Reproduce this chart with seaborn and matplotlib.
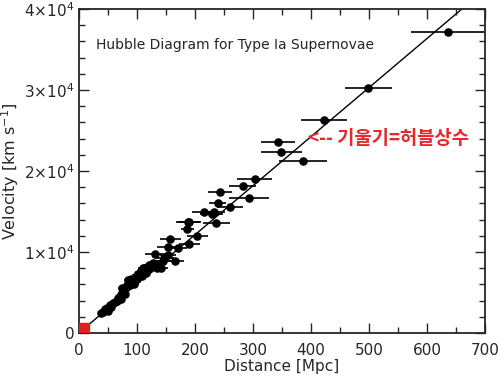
import numpy as np
import pandas as pd
import matplotlib
matplotlib.use("Agg")
import matplotlib.pyplot as plt
from matplotlib.patches import Rectangle
from matplotlib.ticker import MultipleLocator, FixedLocator, FixedFormatter
import seaborn as sns

# Type Ia supernovae: distance [Mpc], velocity [km/s], distance error [Mpc]
distance = [38, 42, 45, 48, 50, 53, 55, 58, 62, 65, 68, 70, 72, 74, 74, 78, 80,
            82, 85, 88, 90, 94, 95, 100, 100, 103, 105, 108, 111, 112, 115, 120,
            120, 125, 128, 130, 131, 134, 138, 142, 145, 147, 153, 154, 157, 165,
            170, 187, 188, 190, 190, 204, 215, 229, 233, 237, 239, 243, 260, 282,
            293, 303, 343, 349, 386, 422, 499, 636]
velocity = [2400, 2630, 2900, 3050, 2750, 3460, 3200, 3700, 3860, 3900, 4280, 4500,
            4200, 4900, 5520, 5200, 4800, 5930, 6540, 5900, 6600, 6330, 6100, 7160,
            6700, 7300, 7570, 7000, 7990, 7700, 7400, 8400, 7900, 8100, 8600, 8300,
            9750, 7990, 8500, 8000, 8900, 9300, 10650, 9630, 11560, 8930, 10530,
            12800, 13660, 13740, 10950, 12020, 14980, 14650, 14980, 13540, 16090,
            17370, 15510, 18190, 16700, 18970, 23620, 22380, 21200, 26300, 30280,
            37200]
dist_err = [3, 3, 3, 4, 4, 4, 4, 4, 5, 5, 5, 5, 5, 6, 6, 6, 6, 6, 7, 7, 7, 7, 7,
            8, 8, 8, 8, 8, 9, 9, 9, 10, 10, 10, 11, 11, 17, 11, 12, 12, 13, 16, 18,
            14, 18, 16, 17, 12, 20, 20, 18, 18, 20, 20, 18, 23, 15, 20, 22, 24, 35,
            30, 29, 35, 42, 40, 40, 64]

H0 = 60.6                  # slope of the fitted line [km/s/Mpc]
local_box = (18, 1200)     # red box at the origin: width [Mpc], height [km/s]

x_ticks = [0, 100, 200, 300, 400, 500, 600, 700]
y_ticks = [0, 10000, 20000, 30000, 40000]
y_tick_labels = ["0", r"$1{\times}10^4$", r"$2{\times}10^4$", r"$3{\times}10^4$",
                 r"$4{\times}10^4$"]

df = pd.DataFrame({"distance": distance, "velocity": velocity, "err": dist_err})

sns.set_style("ticks")
plt.rcParams["font.family"] = ["DejaVu Sans"]
plt.rcParams["mathtext.fontset"] = "dejavusans"

fig = plt.figure(figsize=(5.0, 3.77), dpi=100)
ax = fig.add_axes([0.158, 0.117, 0.812, 0.859])

ax.errorbar(df["distance"], df["velocity"], xerr=df["err"], fmt="none",
            ecolor="black", elinewidth=1.2, capsize=0, zorder=2)
sns.scatterplot(data=df, x="distance", y="velocity", color="black", s=38,
                edgecolor="black", linewidth=0, ax=ax, zorder=3, legend=False)

xs = np.array([0, 700])
ax.plot(xs, H0 * xs, color="black", lw=1.0, zorder=2)

# red box marking the local neighbourhood
ax.add_patch(Rectangle((0, 0), local_box[0], local_box[1], color="#e02020",
                       zorder=4, clip_on=True))

ax.set_xlim(0, 700)
ax.set_ylim(0, 40000)
ax.xaxis.set_major_locator(FixedLocator(x_ticks))
ax.xaxis.set_minor_locator(MultipleLocator(50))
ax.yaxis.set_major_locator(FixedLocator(y_ticks))
ax.yaxis.set_major_formatter(FixedFormatter(y_tick_labels))
ax.yaxis.set_minor_locator(MultipleLocator(2000))
ax.tick_params(which="both", direction="in", top=True, right=True, labelsize=11)
ax.tick_params(which="major", length=7, width=1.0)
ax.tick_params(which="minor", length=4, width=1.0)
ax.tick_params(axis="x", pad=7)
for sp in ax.spines.values():
    sp.set_linewidth(1.3)

ax.set_xlabel("Distance [Mpc]", fontsize=11, labelpad=1)
ax.set_ylabel(r"Velocity [km s$^{-1}$]", fontsize=11.5, labelpad=2)

ax.text(30, 35600, "Hubble Diagram for Type Ia Supernovae", fontsize=10,
        va="center", ha="left")
ax.text(395, 24000, "<-- 기울기=허블상수", fontsize=13.5, fontweight="bold",
        color="#e8262b", va="center", ha="left",
        family=["Noto Sans CJK KR", "DejaVu Sans"])

fig.savefig("out.png", dpi=100)
